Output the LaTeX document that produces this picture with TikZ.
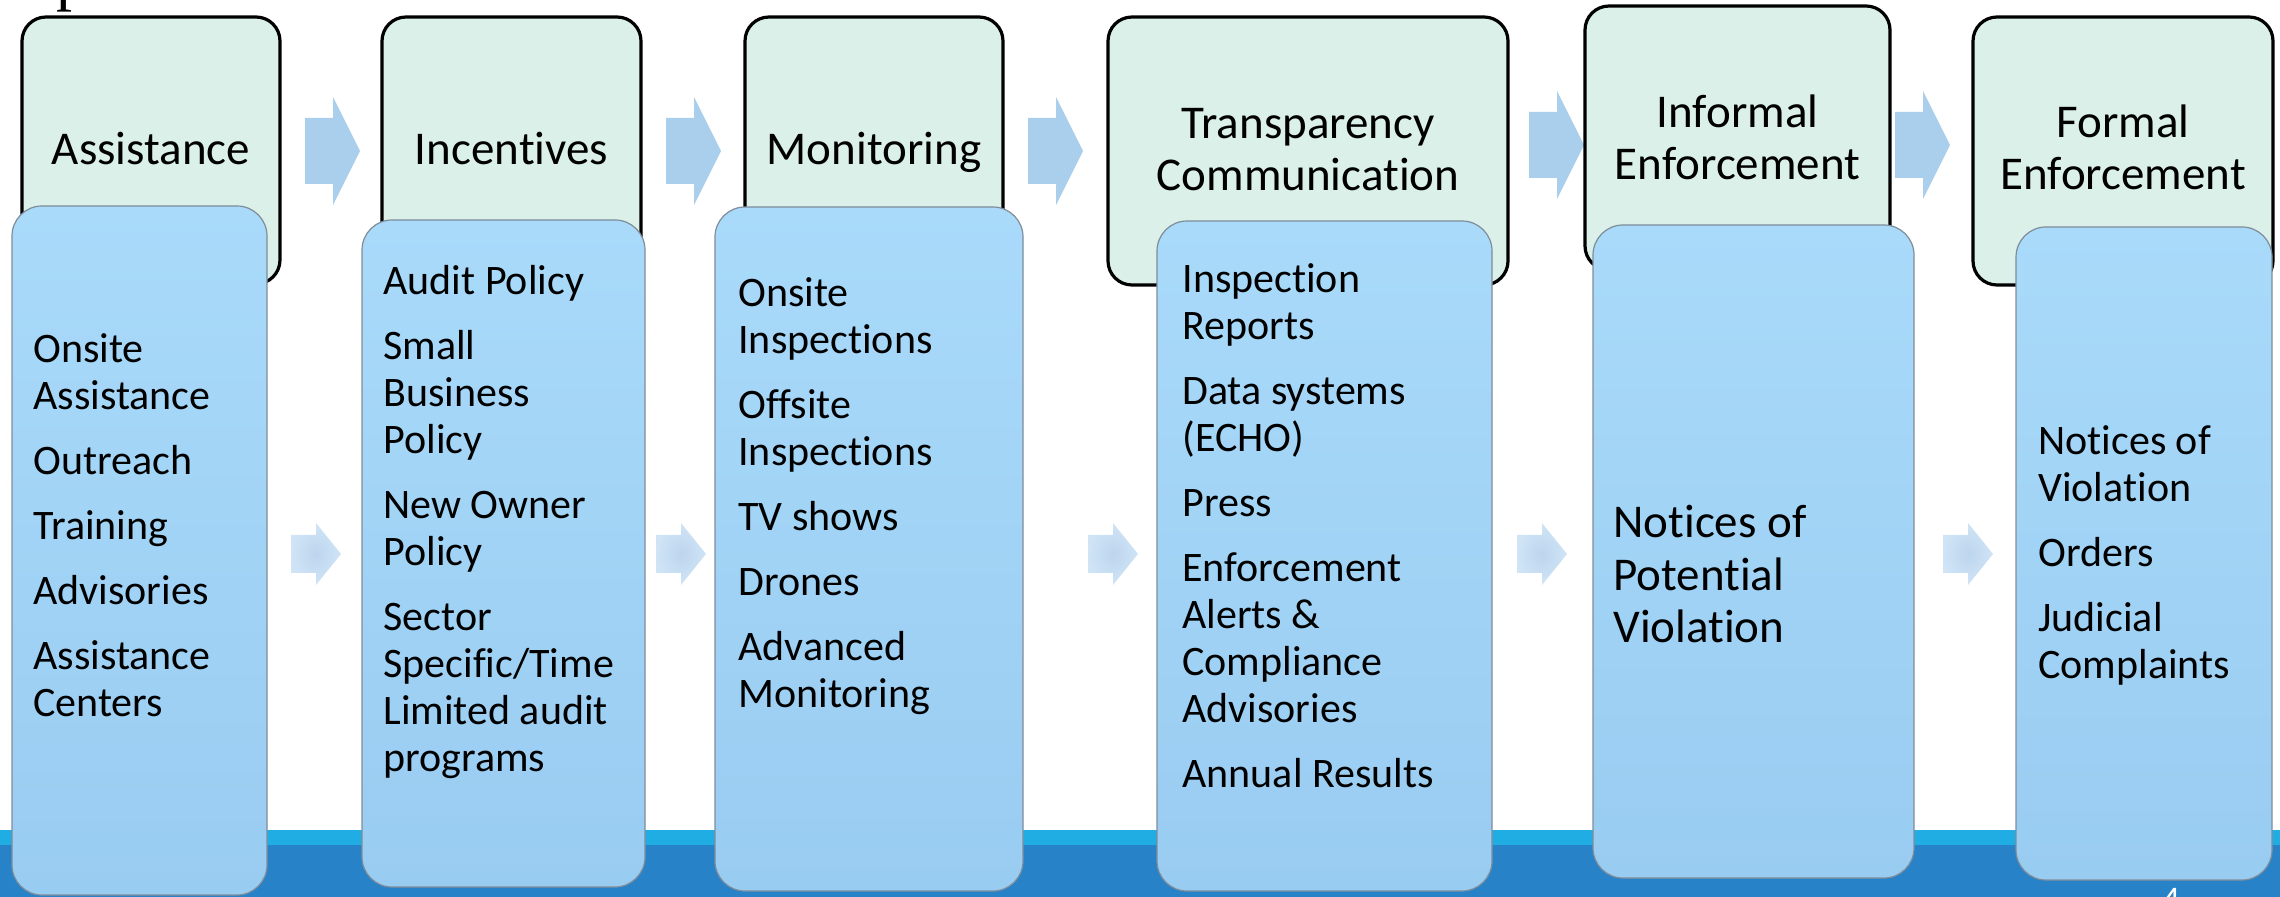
\documentclass[tikz,border=0pt]{standalone}
\usepackage{fontspec}
\setmainfont[Ligatures={NoCommon}]{Carlito}
\newfontfamily\serifpart{Liberation Serif}
\definecolor{mint}{HTML}{DAF0E9}
\definecolor{boxtop}{HTML}{A9DAFA}
\definecolor{boxbot}{HTML}{99CCF1}
\definecolor{boxedge}{HTML}{7F8C99}
\definecolor{arrowtop}{HTML}{AACFEC}
\definecolor{arrowout}{HTML}{D0E4F6}
\definecolor{arrowin}{HTML}{BCD5EE}
\definecolor{bandlight}{HTML}{1FADE4}
\definecolor{banddark}{HTML}{2882C8}
\newcommand\bodyfont{\fontsize{21pt}{23.5pt}\selectfont}
\newcommand\titlefont{\fontsize{23.5pt}{26pt}\selectfont}
\newcommand\bigbodyfont{\fontsize{23.5pt}{26.25pt}\selectfont}
\newcommand\listtext[1]{\begin{minipage}[t]{220pt}\raggedright #1\end{minipage}}
\newcommand\titletext[1]{\begin{minipage}[t]{220pt}\centering #1\end{minipage}}
\newcommand\itemgap{\\[9pt]}
\begin{document}
\begin{tikzpicture}[x=0.5pt,y=-0.5pt,
  titlebox/.style={draw=black, line width=1.6pt, fill=mint, rounded corners=12pt, inner sep=0pt},
  listbox/.style={draw=boxedge, line width=0.6pt, top color=boxtop, bottom color=boxbot, rounded corners=15pt, inner sep=0pt},
  titlelabel/.style={anchor=base, inner sep=0pt, font=\titlefont},
  listlabel/.style={anchor=base west, inner sep=0pt, font=\bodyfont},
  biglabel/.style={anchor=base west, inner sep=0pt, font=\bigbodyfont},
  toparr/.pic={\fill[arrowtop] (0,-33) -- (28,-33) -- (28,-54) -- (55,0) -- (28,54) -- (28,33) -- (0,33) -- cycle;},
  lowarr/.pic={\shade[inner color=arrowin, outer color=arrowout] (0,-19) -- (25,-19) -- (25,-31) -- (50,0) -- (25,31) -- (25,19) -- (0,19) -- cycle;}
]
\useasboundingbox (0,0) rectangle (2280,897);
% band at the bottom
\fill[bandlight] (0,830) rectangle (2280,845);
\fill[banddark] (0,845) rectangle (2280,897);
% cut-off heading letter and page number
\node[anchor=base west, inner sep=0pt, font=\serifpart\fontsize{32pt}{32pt}\selectfont] (headp) at (56,-1) {p};
\node[anchor=base, inner sep=0pt, font=\fontsize{18pt}{18pt}\selectfont, text=white] (pagenum) at (2171,911) {4};
% top arrows
\pic (a1) at (305,151) {toparr};
\pic (a2) at (666,151) {toparr};
\pic (a3) at (1028,151) {toparr};
\pic (a4) at (1529,145) {toparr};
\pic (a5) at (1895,145) {toparr};
% title boxes
\node[titlebox, minimum width=129pt, minimum height=133.5pt] (t1) at (151,150.5) {};
\node[titlebox, minimum width=129.5pt, minimum height=133.5pt] (t2) at (511.5,150.5) {};
\node[titlebox, minimum width=129pt, minimum height=133.5pt] (t3) at (874,150.5) {};
\node[titlebox, minimum width=200pt, minimum height=134pt] (t4) at (1308,151) {};
\node[titlebox, minimum width=152.5pt, minimum height=132pt] (t5) at (1737.5,138) {};
\node[titlebox, minimum width=150pt, minimum height=134pt] (t6) at (2123,151) {};
\node[titlelabel] (l1) at (151,165) {\titletext{Assistance}};
\node[titlelabel] (l2) at (511.5,165) {\titletext{Incentives}};
\node[titlelabel] (l3) at (874,165) {\titletext{Monitoring}};
\node[titlelabel] (l4) at (1308,139) {\titletext{Transparency\\Communication}};
\node[titlelabel] (l5) at (1737.5,128) {\titletext{Informal\\Enforcement}};
\node[titlelabel] (l6) at (2123,138) {\titletext{Formal\\Enforcement}};
% lower arrows
\pic (c1) at (291,554) {lowarr};
\pic (c2) at (656,554) {lowarr};
\pic (c3) at (1088,554) {lowarr};
\pic (c4) at (1517,554) {lowarr};
\pic (c5) at (1943,554) {lowarr};
% list boxes
\node[listbox, minimum width=127.5pt, minimum height=344.5pt] (b1) at (139.5,550.5) {};
\node[listbox, minimum width=141.5pt, minimum height=333.5pt] (b2) at (503.5,553.5) {};
\node[listbox, minimum width=154pt, minimum height=342pt] (b3) at (869,549) {};
\node[listbox, minimum width=167.5pt, minimum height=335pt] (b4) at (1324.5,556) {};
\node[listbox, minimum width=160.5pt, minimum height=326.5pt] (b5) at (1753.5,551.5) {};
\node[listbox, minimum width=128pt, minimum height=326.5pt] (b6) at (2144,553.5) {};
% list texts
\node[listlabel] (x1) at (33,363) {\listtext{Onsite\\Assistance\itemgap Outreach\itemgap Training\itemgap Advisories\itemgap Assistance\\Centers}};
\node[listlabel] (x2) at (383,295) {\listtext{Audit Policy\itemgap Small\\Business\\Policy\itemgap New Owner\\Policy\itemgap Sector\\Specific/Time\\Limited audit\\programs}};
\node[listlabel] (x3) at (738,307) {\listtext{Onsite\\Inspections\itemgap Offsite\\Inspections\itemgap TV shows\itemgap Drones\itemgap Advanced\\Monitoring}};
\node[listlabel] (x4) at (1182,293) {\listtext{Inspection\\Reports\itemgap Data systems\\(ECHO)\itemgap Press\itemgap Enforcement\\Alerts \&\\Compliance\\Advisories\itemgap Annual Results}};
\node[biglabel] (x5) at (1613,538) {\listtext{Notices of\\Potential\\Violation}};
\node[listlabel] (x6) at (2038,455) {\listtext{Notices of\\Violation\itemgap Orders\itemgap Judicial\\Complaints}};
\end{tikzpicture}
\end{document}
